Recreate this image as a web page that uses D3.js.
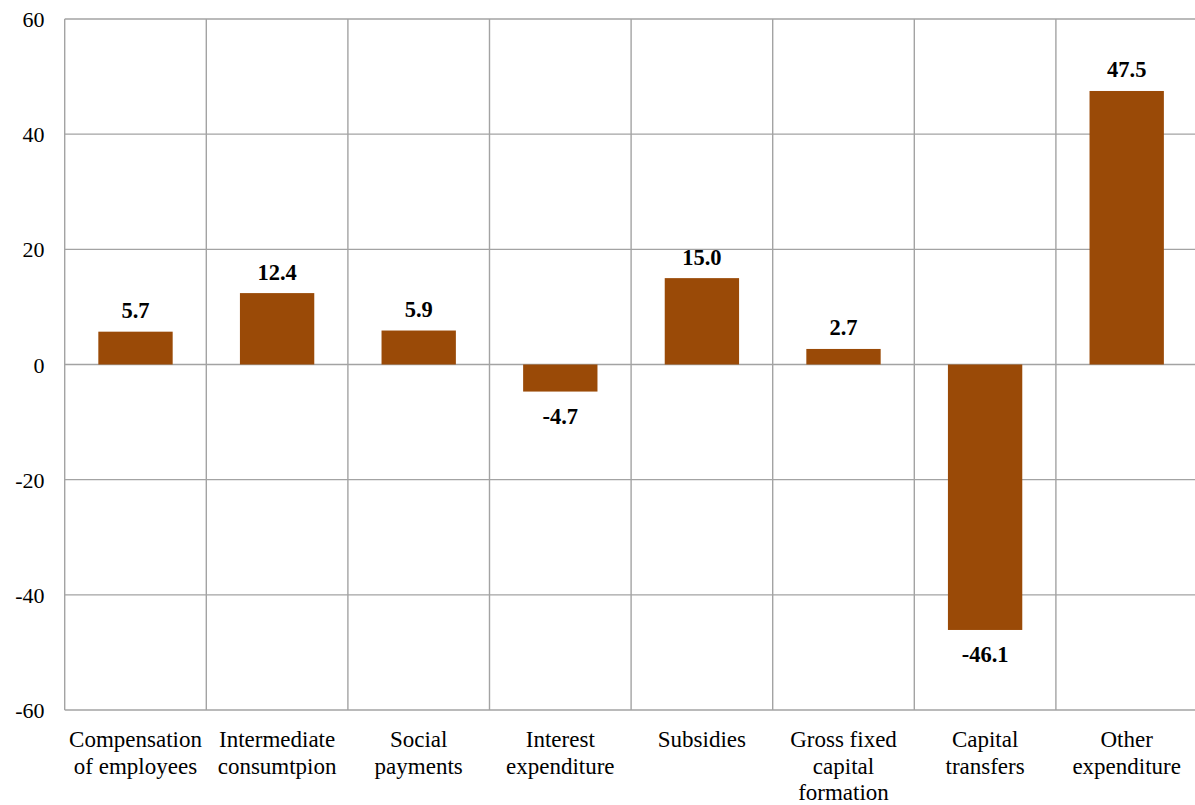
<!DOCTYPE html>
<html>
<head>
<meta charset="utf-8">
<script src="https://cdn.jsdelivr.net/npm/d3@7"></script>
<style>
  html, body { margin: 0; padding: 0; background: #fff; }
  svg { display: block; }
</style>
</head>
<body>
<svg id="chart" width="1195" height="805"></svg>
<script>
// Change in expenditure items
const categories = [
  ["Compensation", "of employees"],
  ["Intermediate", "consumtpion"],
  ["Social", "payments"],
  ["Interest", "expenditure"],
  ["Subsidies"],
  ["Gross fixed", "capital", "formation"],
  ["Capital", "transfers"],
  ["Other", "expenditure"]
];
const values = [5.7, 12.4, 5.9, -4.7, 15.0, 2.7, -46.1, 47.5];
const yTicks = [60, 40, 20, 0, -20, -40, -60];

const FONT = '"Liberation Serif"';
const svg = d3.select("#chart");
const margin = { left: 64.7, top: 19, right: 1197.5, bottom: 710 };

const keys = categories.map((c, i) => i);
const x = d3.scaleBand().domain(keys).range([margin.left, margin.right]).paddingInner(0).paddingOuter(0);
const y = d3.scaleLinear().domain([-60, 60]).range([margin.bottom, margin.top]);

const gridColor = "#a3a3a3";
const barColor = "#9A4A07";

// horizontal gridlines
svg.append("g").selectAll("line").data(yTicks).join("line")
  .attr("x1", margin.left).attr("x2", margin.right)
  .attr("y1", d => y(d)).attr("y2", d => y(d))
  .attr("stroke", gridColor).attr("stroke-width", 1.4);

// vertical category separators
const bounds = keys.map(k => x(k)).concat([margin.right]);
svg.append("g").selectAll("line").data(bounds).join("line")
  .attr("x1", d => d).attr("x2", d => d)
  .attr("y1", margin.top).attr("y2", margin.bottom)
  .attr("stroke", gridColor).attr("stroke-width", 1.4);

// y axis labels
svg.append("g").selectAll("text").data(yTicks).join("text")
  .attr("x", 44.5).attr("y", d => y(d) + 8)
  .attr("text-anchor", "end")
  .style("font-family", FONT)
  .style("font-size", "22px")
  .attr("fill", "#000")
  .text(d => d);

// bars
const bw = x.bandwidth() * 0.525;
svg.append("g").selectAll("rect").data(values).join("rect")
  .attr("x", (d, i) => x(i) + x.bandwidth() / 2 - bw / 2)
  .attr("width", bw)
  .attr("y", d => y(Math.max(0, d)))
  .attr("height", d => Math.abs(y(d) - y(0)))
  .attr("fill", barColor);

// value labels
svg.append("g").selectAll("text").data(values).join("text")
  .attr("x", (d, i) => x(i) + x.bandwidth() / 2)
  .attr("y", d => d >= 0 ? y(d) - 13.5 : y(d) + 32.5)
  .attr("text-anchor", "middle")
  .style("font-family", FONT)
  .style("font-size", "22.5px")
  .style("font-weight", "bold")
  .attr("fill", "#000")
  .text(d => d.toFixed(1));

// category labels
const catG = svg.append("g");
categories.forEach((lines, i) => {
  const cx = x(i) + x.bandwidth() / 2;
  const t = catG.append("text")
    .attr("x", cx)
    .attr("y", 747)
    .attr("text-anchor", "middle")
    .style("font-family", FONT)
    .style("font-size", "23px")
    .attr("fill", "#000");
  lines.forEach((ln, j) => {
    t.append("tspan").attr("x", cx).attr("dy", j === 0 ? 0 : 26.7).text(ln);
  });
});
</script>
</body>
</html>
